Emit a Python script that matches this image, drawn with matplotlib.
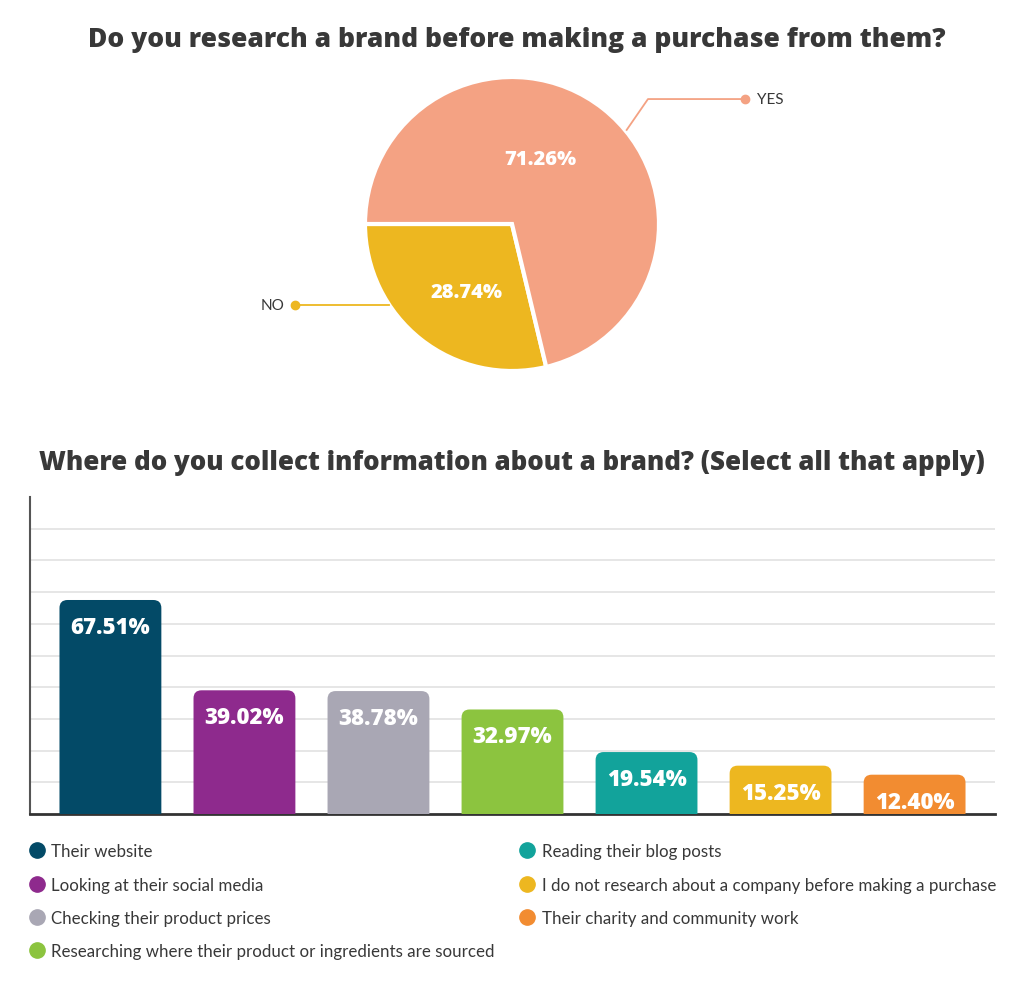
import matplotlib
matplotlib.use("Agg")
from matplotlib import pyplot as plt
from matplotlib.patches import FancyBboxPatch
from matplotlib.lines import Line2D

# pie data
pie_labels = ["NO", "YES"]
pie_values = [28.74, 71.26]
pie_colors = ["#EDB720", "#F4A283"]

# bar data
bar_labels = [
    "Their website",
    "Looking at their social media",
    "Checking their product prices",
    "Researching where their product or ingredients are sourced",
    "Reading their blog posts",
    "I do not research about a company before making a purchase",
    "Their charity and community work",
]
bar_values = [67.51, 39.02, 38.78, 32.97, 19.54, 15.25, 12.40]
bar_colors = ["#034A67", "#8E2A8D", "#A9A7B4", "#8CC43F", "#12A39B", "#EDB720", "#F28C31"]

title_font = "Open Sans"
body_font = "Lato"
dark = "#383838"

W, H = 1024, 987
fig = plt.figure(figsize=(W / 100, H / 100), dpi=100)
fig.patch.set_facecolor("white")


def fx(px):
    return px / W


def fy(py):
    return 1 - py / H


fig.text(fx(517), fy(40), "Do you research a brand before making a purchase from them?",
         ha="center", va="center", fontsize=19, fontweight="heavy", family=title_font, color=dark)
fig.text(fx(512), fy(463), "Where do you collect information about a brand? (Select all that apply)",
         ha="center", va="center", fontsize=18.6, fontweight="heavy", family=title_font, color=dark)

# ---- pie ----
R = 147.0
cx, cy = 512, 225
ax_pie = fig.add_axes([fx(cx - 300), fy(cy + 200), 600 / W, 400 / H])
wedges, _ = ax_pie.pie(pie_values, colors=pie_colors, startangle=180, counterclock=True,
                       radius=1, wedgeprops=dict(edgecolor="white", linewidth=3))
ax_pie.set_xlim(-300 / R, 300 / R)
ax_pie.set_ylim(-200 / R, 200 / R)
ax_pie.set_aspect("equal")
ax_pie.axis("off")

pct_pos = {"NO": (-0.31, -0.46), "YES": (0.19, 0.44)}
for lab, val in zip(pie_labels, pie_values):
    x, y = pct_pos[lab]
    ax_pie.text(x, y, f"{val:.2f}%", ha="center", va="center", color="white",
                fontsize=14.5, fontweight="heavy", family=title_font)

# leader lines
ax_pie.plot([0.78, 0.925, 1.585], [0.64, 0.85, 0.85], color=pie_colors[1], lw=1.3, clip_on=False)
ax_pie.plot([1.585], [0.85], "o", color=pie_colors[1], ms=6, clip_on=False)
ax_pie.text(1.67, 0.85, "YES", ha="left", va="center", fontsize=11, family=body_font, color=dark)
ax_pie.plot([-0.834, -1.476], [-0.551, -0.551], color=pie_colors[0], lw=1.3, clip_on=False)
ax_pie.plot([-1.476], [-0.551], "o", color=pie_colors[0], ms=6, clip_on=False)
ax_pie.text(-1.55, -0.551, "NO", ha="right", va="center", fontsize=11, family=body_font, color=dark)

# ---- bars ----
ax = fig.add_axes([fx(30), fy(815), 965 / W, 317 / H])
x_pos = range(len(bar_values))
bars = ax.bar(x_pos, bar_values, width=0.76, color=bar_colors)
ax.set_xlim(-0.6, len(bar_values) - 0.4)
ax.set_ylim(0, 100)

# swap plain bars for rounded ones
for b in bars:
    x0, y0 = b.get_x(), b.get_y()
    w, h = b.get_width(), b.get_height()
    b.set_visible(False)
    rb = FancyBboxPatch((x0, y0 - 5), w, h + 5, boxstyle="round,pad=0,rounding_size=0.06",
                        mutation_aspect=42, facecolor=b.get_facecolor(), edgecolor="none", zorder=3)
    ax.add_patch(rb)

for i, v in enumerate(bar_values):
    ax.annotate(f"{v:.2f}%", xy=(i, v), xytext=(0, -27), textcoords="offset pixels",
                ha="center", va="center", color="white", fontsize=16, fontweight="heavy",
                family=title_font, zorder=4)

ax.set_yticks(range(10, 100, 10))
ax.yaxis.grid(True, color="#E2E2E2", lw=1.2)
ax.set_axisbelow(True)
ax.tick_params(left=False, bottom=False, labelleft=False, labelbottom=False)
for s in ["top", "right"]:
    ax.spines[s].set_visible(False)
ax.spines["left"].set_color("#555555")
ax.spines["left"].set_linewidth(1.5)
ax.spines["bottom"].set_color("#333333")
ax.spines["bottom"].set_linewidth(2)

handles = [Line2D([], [], marker="o", ls="none", ms=11, color=c) for c in bar_colors]
leg = fig.legend(handles, bar_labels, ncol=2, loc="upper left", bbox_to_anchor=(fx(15), fy(829)),
                 frameon=False, handlelength=0.8, handletextpad=0.45, labelspacing=1.02,
                 columnspacing=1.5, prop=dict(family=body_font, size=12.2))
for t in leg.get_texts():
    t.set_color(dark)

fig.savefig("out.png", dpi=100, facecolor="white")
